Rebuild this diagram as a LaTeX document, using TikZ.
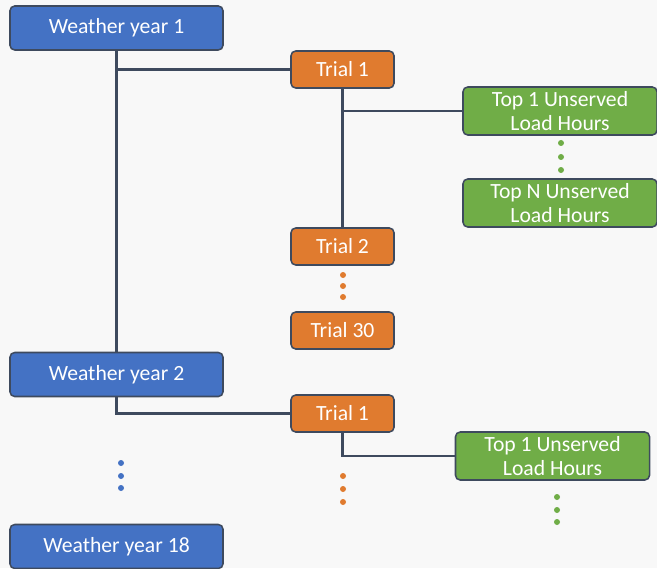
\documentclass[tikz,border=0pt]{standalone}
\usepackage{fontspec}
\setmainfont{Carlito}
\usetikzlibrary{positioning}
\definecolor{wblue}{HTML}{4472C4}
\definecolor{torange}{HTML}{E07B2F}
\definecolor{hgreen}{HTML}{70AD47}
\definecolor{edgeline}{HTML}{3E4A5E}
\definecolor{bggrey}{HTML}{F8F8F8}
\tikzset{
  box/.style={draw=edgeline, line width=1.3pt, rounded corners=4pt, text=white, align=center, inner sep=0pt, font=\fontsize{18.5}{20.5}\selectfont},
  yearbox/.style={box, fill=wblue, minimum width=6.39cm, minimum height=1.32cm},
  trialbox/.style={box, fill=torange, minimum width=3.09cm, minimum height=1.11cm},
  hourbox/.style={box, fill=hgreen, minimum width=5.82cm, minimum height=1.44cm},
  link/.style={draw=edgeline, line width=1.8pt},
  dot/.style={circle, inner sep=0pt, minimum size=0.18cm},
}
\begin{document}
\begin{tikzpicture}[x=0.03cm,y=-0.03cm]
% Background
    \useasboundingbox[fill=bggrey] (0,0) rectangle (657,568);
% Weather years
    \node[yearbox] (wy1) at (116.5,28) {Weather year 1};
    \node[yearbox] (wy2) at (116.5,374.5) {Weather year 2};
    \node[yearbox] (wy18) at (116.5,546.5) {Weather year 18};
% Trials
    \node[trialbox] (ta1) at (342.5,69.5) {Trial 1};
    \node[trialbox] (ta2) at (342.5,246.5) {Trial 2};
    \node[trialbox] (ta30) at (342.5,330.5) {Trial 30};
    \node[trialbox] (tb1) at (342.5,413.5) {Trial 1};
% Unserved load hours
    \node[hourbox] (ga1) at (560,111) {Top 1 Unserved\\Load Hours};
    \node[hourbox] (gaN) at (560,203) {Top N Unserved\\Load Hours};
    \node[hourbox] (gb1) at (552.5,456) {Top 1 Unserved\\Load Hours};
% Dots
    \foreach \y [count=\i] in {143,157,170} \node[dot,fill=hgreen] (gad\i) at (561,\y) {};
    \foreach \y [count=\i] in {275,286,297} \node[dot,fill=torange] (tad\i) at (343,\y) {};
    \foreach \y [count=\i] in {463,476,488} \node[dot,fill=wblue] (wd\i) at (121,\y) {};
    \foreach \y [count=\i] in {476,489,502} \node[dot,fill=torange] (tbd\i) at (343,\y) {};
    \foreach \y [count=\i] in {497,510,522} \node[dot,fill=hgreen] (gbd\i) at (557,\y) {};
% Connectors
    \draw[link] (wy1.south) -- (wy2.north);
    \draw[link] (wy1.south |- ta1.west) -- (ta1.west);
    \draw[link] (ta1.south) -- (ta2.north);
    \draw[link] (ta1.south |- ga1.west) -- (ga1.west);
    \draw[link] (wy2.south) |- (tb1.west);
    \draw[link] (tb1.south) |- (gb1.west);
\end{tikzpicture}
\end{document}
